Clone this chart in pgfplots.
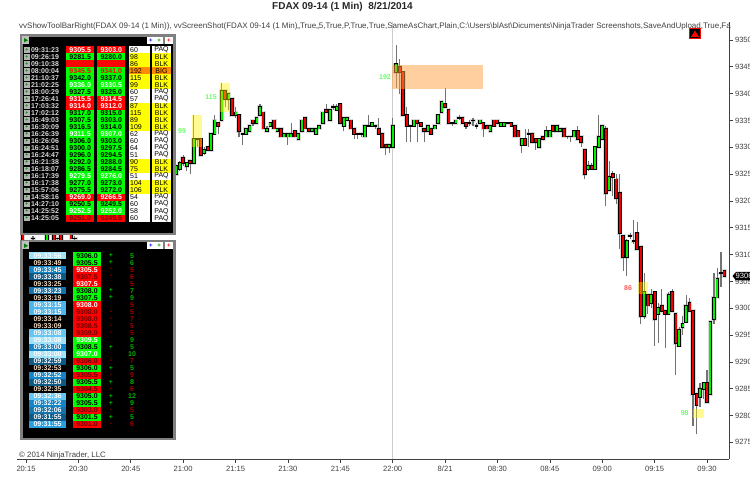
\documentclass[border=0pt]{standalone}
\usepackage{fontspec}
\setmainfont{Liberation Sans}
\usepackage{pgfplots}
\usepackage{pgfplotstable}
\pgfplotsset{compat=1.18}

\definecolor{upg}{HTML}{00F000}
\definecolor{dnr}{HTML}{F00000}
\definecolor{axgray}{HTML}{404040}
\definecolor{pgreen}{HTML}{00FF00}
\definecolor{pred}{HTML}{FF0000}
\definecolor{pyel}{HTML}{FFFF00}
\definecolor{pora}{HTML}{FF8C00}
\definecolor{dkred}{HTML}{700000}
\definecolor{nred}{HTML}{A00000}
\definecolor{ngrn}{HTML}{00B000}
\definecolor{lblg}{HTML}{66FF66}
\definecolor{lblr}{HTML}{FF5A5A}
\definecolor{wheatt}{HTML}{F0D8C0}
\definecolor{b1}{HTML}{A0E2FA}
\definecolor{b2}{HTML}{66C6F2}
\definecolor{b3}{HTML}{4DB4EC}
\definecolor{b4}{HTML}{2BA0E0}
\definecolor{b5}{HTML}{1486C8}
\definecolor{b6}{HTML}{1873AA}
\definecolor{b7}{HTML}{0F5A85}

% i open high low close
\pgfplotstableread{
i o h l c
-1 9314 9314 9312 9312
2 9313 9313.5 9312 9313
6 9312 9314 9312 9314
8 9314 9314 9312 9312
9 9313 9313 9312.5 9313
10 9314 9314 9312.5 9312.5
13 9314 9314 9313 9313
14 9313 9313.5 9312 9313
43 9325 9326.5 9325 9326.5
44 9326 9327.5 9325.5 9327
45 9328 9328.5 9326.5 9327
46 9326.5 9327 9325.5 9327
47 9327.5 9327.5 9325 9327
48 9327 9336 9327 9331.5
49 9331.5 9331.5 9330 9331.5
50 9331.5 9331.5 9328.5 9328.5
51 9329 9330 9328.5 9329.5
52 9330 9330 9329.5 9329.5
53 9329.5 9332.5 9329.5 9332.5
54 9332.5 9336 9332.5 9335
55 9334.5 9334.5 9332.5 9334
56 9335 9342 9335 9340.5
57 9340.5 9340.5 9337.5 9339
58 9339 9340 9337 9340
59 9339 9339 9336 9336
60 9336 9337.5 9335.5 9336.5
61 9336 9336 9332 9333
62 9332.5 9332.5 9330.5 9332.5
63 9332.5 9333.5 9332.5 9333.5
64 9333 9334 9333 9334
65 9335 9335 9334 9334.5
66 9334.5 9335.5 9334.5 9335.5
67 9336 9338 9336 9337.5
68 9336.5 9336.5 9333.5 9333.5
69 9333 9334 9333 9333.5
70 9334 9334.5 9334 9334.5
71 9335 9335 9333.5 9333.5
72 9333 9333.5 9333 9333.5
73 9333.5 9333.5 9332 9332
74 9332 9332.5 9332 9332.5
75 9332 9332.5 9330.5 9332.5
76 9332 9334.5 9332 9332.5
77 9333 9333 9332 9332
78 9331.5 9332.5 9331.5 9332.5
79 9333 9335 9333 9335
80 9335.5 9335.5 9333.5 9333.5
81 9333.5 9333.5 9333 9333
82 9333 9333.5 9333 9333.5
83 9332.5 9333.5 9332.5 9333.5
84 9333.5 9334 9333.5 9334
85 9334.5 9336.5 9334.5 9336.5
86 9337 9338 9336.5 9336.5
87 9335 9337 9335 9337
88 9337.5 9338 9337 9337.5
89 9337 9338 9337 9337.5
90 9338 9338 9334.5 9334.5
91 9334 9335.5 9333 9335.5
92 9335 9335.5 9335 9335.5
93 9335 9335 9333.5 9333.5
94 9333.5 9333.5 9331.5 9332.5
95 9332.5 9332.5 9331.5 9332.5
96 9332.5 9332.5 9332 9332.5
97 9332 9334 9332 9334
98 9334 9336 9334 9334
99 9334 9334.5 9334 9334.5
100 9334 9334 9333.5 9334
101 9333.5 9335.5 9332.5 9332.5
102 9332.5 9332.5 9330 9330
103 9330.5 9330.5 9328.5 9330
104 9330 9330.5 9329 9330.5
105 9330 9335.5 9330 9334
106 9344 9349 9341 9345.5
107 9345 9346.5 9340 9344
108 9344 9344 9336 9336
109 9336 9337.5 9331 9334
110 9334 9334 9331 9334
111 9334 9335 9334 9335
112 9335 9335 9331 9334.5
113 9334.5 9334.5 9334 9334
114 9333.5 9333.5 9331 9333
115 9333 9334 9333 9334
116 9333.5 9333.5 9332.5 9332.5
117 9333.5 9334 9333.5 9334
118 9334.5 9336 9334.5 9336
119 9336.5 9338.5 9336.5 9338.5
120 9338 9341 9337.5 9337.5
121 9337 9337 9334.5 9334.5
122 9334.5 9334.5 9334 9334.5
123 9334.5 9335 9334.5 9335
124 9335.5 9336 9335 9335.5
125 9335.5 9335.5 9334.5 9334.5
126 9334.5 9334.5 9333.5 9334
127 9334.5 9335 9334 9334.5
128 9335 9335.5 9334 9335
129 9334 9334.5 9333.5 9334
130 9334.5 9335 9334.5 9335
131 9334.5 9334.5 9332 9333.5
132 9334 9334 9333.5 9333.5
133 9333 9334 9333 9334
134 9335 9335 9334 9334
135 9335 9335 9334.5 9334.5
136 9334 9334.5 9334 9334.5
137 9334 9334.5 9334 9334.5
138 9334.5 9334.5 9334.5 9334.5
139 9334.5 9334.5 9334 9334
140 9334 9334 9332 9332
141 9333 9333 9332 9332
142 9330.5 9331.5 9329 9331.5
143 9331.5 9333.5 9330.5 9330.5
144 9332.5 9333.5 9330 9332.5
145 9332.5 9332.5 9331 9331
146 9331.5 9331.5 9329.5 9331
147 9330 9331.5 9330 9331.5
148 9332 9332 9331.5 9331.5
149 9332 9334 9332 9333
150 9332 9333 9332 9333
151 9334 9334 9333 9333
152 9333 9334 9333 9334
153 9333 9333.5 9333 9333.5
154 9333.5 9333.5 9332 9332
155 9332 9332 9331.5 9332
156 9332 9332 9331 9332
157 9332 9333 9332 9333
158 9333 9334 9331.5 9331.5
159 9332 9332 9330 9331
160 9329.5 9329.5 9324 9325
161 9326 9327.5 9325.5 9326.5
162 9326.5 9327 9326 9326
163 9326 9330 9326 9330
164 9330 9336 9330 9332
165 9331.5 9334 9331.5 9334
166 9333.5 9334 9319 9321.5
167 9322 9327.5 9322 9324.5
168 9325 9325.5 9321 9324.5
169 9324 9325 9319.5 9320.5
170 9321.5 9325 9311 9314
171 9313.5 9313.5 9307 9309.5
172 9309.5 9313 9306 9312.5
173 9313.5 9314 9313 9313.5
174 9312.5 9316.5 9312 9312.5
175 9314 9316 9311 9311
176 9311.5 9311.5 9297 9298.5
177 9298.5 9306.5 9298 9303
178 9302.5 9302.5 9299 9300.5
179 9301 9303.5 9300 9302.5
180 9303 9303 9293 9298
181 9299 9301 9293.5 9300
182 9300.5 9303.5 9299.5 9299.5
183 9299.5 9299.5 9292.5 9299
184 9299 9303 9299 9302.5
185 9303 9303.5 9299.5 9299.5
186 9299 9299 9287.5 9293.5
187 9293 9296.5 9293 9296
188 9296.5 9298.5 9295 9297
189 9297.5 9302.5 9297.5 9300.5
190 9301 9302 9299.5 9299.5
191 9299.5 9299.5 9278 9284
192 9284 9284 9276.5 9282
193 9283.5 9286 9281.5 9285
194 9285 9286 9283 9286
195 9286 9288.5 9282.5 9282.5
196 9284 9297.5 9284 9297.5
197 9298 9306.5 9297 9302
198 9302 9307.5 9302 9305.5
199 9306.5 9310.5 9304 9306.5
200 9307 9307 9306 9306
}\candles

\begin{document}
\begin{tikzpicture}
\useasboundingbox (0,0) rectangle (750pt,478pt);
\clip (0,0) rectangle (750pt,478pt);
\begin{axis}[
    at={(17pt,19pt)},
    anchor=south west,
    scale only axis,
    width=712pt,
    height=437pt,
    axis x line=bottom,
    axis y line=right,
    axis line style={-,color=axgray,line width=0.8pt},
    xmin=-2.58, xmax=201.3,
    ymin=9271.9, ymax=9353.36,
    xtick={0,15,...,195},
    xticklabels={20:15,20:30,20:45,21:00,21:15,21:30,21:45,22:00,8/21,08:30,08:45,09:00,09:15,09:30},
    ytick={9275,9280,...,9350},
    tick align=outside,
    major tick length=4pt,
    tick style={color=axgray,line width=0.7pt},
    /pgf/number format/.cd,assume math mode=true,fixed,1000 sep={},
    /pgfplots/.cd,
    ticklabel style={font=\fontsize{7.6}{9}\selectfont,text=axgray},
    xticklabel style={yshift=1pt,text height=6pt,text depth=1pt},
    yticklabel style={xshift=-1.5pt},
]
% session line at 22:00
\addplot[color=black!20,line width=0.9pt,forget plot] coordinates {(105,9271.9) (105,9353.36)};
% soft shadow round the bodies
\addplot[draw=none,no markers,forget plot,
    error bars/.cd,y dir=both,y explicit,error mark=none,
    error bar style={draw=black!14,line width=5.4pt}]
  table[x=i,y expr={max(\thisrow{o},\thisrow{c})+0.3},y error minus expr={abs(\thisrow{o}-\thisrow{c})+0.6},y error plus expr=0] {\candles};
% wicks
\addplot[draw=none,no markers,forget plot,
    error bars/.cd,y dir=both,y explicit,error mark=none,
    error bar style={draw=black!55,line width=1.1pt}]
  table[x=i,y=l,y error plus expr=\thisrow{h}-\thisrow{l},y error minus expr=0] {\candles};
% body outline
\addplot[draw=none,no markers,forget plot,
    error bars/.cd,y dir=both,y explicit,error mark=none,
    error bar style={draw=black,line width=3.8pt}]
  table[x=i,y expr={max(\thisrow{o},\thisrow{c})+0.17},y error minus expr={abs(\thisrow{o}-\thisrow{c})+0.34},y error plus expr=0] {\candles};
% up bodies
\addplot[draw=none,no markers,forget plot,
    x filter/.expression={\thisrow{c}>\thisrow{o} ? x : nan},
    error bars/.cd,y dir=both,y explicit,error mark=none,
    error bar style={draw=upg,line width=2pt}]
  table[x=i,y=c,y error minus expr={\thisrow{c}-\thisrow{o}},y error plus expr=0] {\candles};
% down bodies
\addplot[draw=none,no markers,forget plot,
    x filter/.expression={\thisrow{c}<\thisrow{o} ? x : nan},
    error bars/.cd,y dir=both,y explicit,error mark=none,
    error bar style={draw=dnr,line width=2pt}]
  table[x=i,y=o,y error minus expr={\thisrow{o}-\thisrow{c}},y error plus expr=0] {\candles};
% zones
\addplot[fill=yellow,fill opacity=0.42,draw=none,forget plot] coordinates {(47.5,9336) (50.4,9336) (50.4,9330) (47.5,9330)} --cycle;
\addplot[fill=yellow,fill opacity=0.42,draw=none,forget plot] coordinates {(55.6,9341.9) (58.4,9341.9) (58.4,9336.6) (55.6,9336.6)} --cycle;
\addplot[fill=yellow,fill opacity=0.42,draw=none,forget plot] coordinates {(175.1,9304.8) (178.2,9304.8) (178.2,9302.6) (175.1,9302.6)} --cycle;
\addplot[fill=yellow,fill opacity=0.42,draw=none,forget plot] coordinates {(191.1,9281.3) (194.2,9281.3) (194.2,9279.6) (191.1,9279.6)} --cycle;
\addplot[fill={rgb,255:red,255;green,160;blue,64},fill opacity=0.5,draw=none,forget plot] coordinates {(104.7,9345.3) (130.8,9345.3) (130.8,9340.8) (104.7,9340.8)} --cycle;
\node[font=\fontsize{7}{8}\selectfont\bfseries,text=lblg] at (axis cs:44.7,9333) {99};
\node[font=\fontsize{7}{8}\selectfont\bfseries,text=lblg] at (axis cs:53,9339.4) {115};
\node[font=\fontsize{7}{8}\selectfont\bfseries,text=lblg] at (axis cs:102.8,9343) {192};
\node[font=\fontsize{7}{8}\selectfont\bfseries,text=lblr] at (axis cs:172.4,9303.8) {86};
\node[font=\fontsize{7}{8}\selectfont\bfseries,text=lblg] at (axis cs:188.6,9280.5) {98};
\end{axis}

% everything below is in image pixels, y counted from the top
\begin{scope}[x=1pt,y=-1pt,yshift=478pt]
\node[anchor=east,inner sep=0pt,font=\fontsize{10}{12}\selectfont\bfseries,text=black!85] at (413,7) {FDAX 09-14 (1 Min)\ \ 8/21/2014};
\node[anchor=west,inner sep=0pt,font=\fontsize{8}{9}\selectfont,text=axgray] at (19,26) {vvShowToolBarRight(FDAX 09-14 (1 Min)), vvScreenShot(FDAX 09-14 (1 Min),,True,,5,True,P,True,True,SameAsChart,Plain,C:\textbackslash Users\textbackslash blAst\textbackslash Dicuments\textbackslash NinjaTrader Screenshots,SaveAndUpload,True,Fa};
\node[anchor=west,inner sep=0pt,font=\fontsize{7.85}{9}\selectfont,text=axgray] at (19,455) {© 2014 NinjaTrader, LLC};
% alert button
\fill[red] (689,28) rectangle (701,39.5);
\fill[black] (690,29) rectangle (700,38.5);
\fill[red] (695,30.5) -- (699,37) -- (691,37) -- cycle;
% last price flag
\fill[black] (732.5,276) -- (736,272) -- (750,272) -- (750,280.5) -- (736,280.5) -- cycle;
\node[anchor=west,inner sep=0pt,font=\fontsize{7.6}{9}\selectfont,text=white] at (735.5,276.2) {9306};

% first panel
\fill[black!50] (20,34.5) rectangle (175.5,235);
\fill[black] (22.5,37) rectangle (173,233);
\fill[black!50] (147,36) rectangle (175.5,44);
\foreach \bx/\bc in {147/blue,155/green!60!black,165/red}{
  \fill[white] (\bx,37) rectangle +(8,7);
  \node[font=\fontsize{6}{6}\selectfont\bfseries,text=\bc,inner sep=0pt] at (\bx+4,40.5) {+};
}
\fill[black!25] (22,36.5) rectangle (29,44);
\fill[green!50!black] (24,38) -- (28,40.3) -- (24,42.5) -- cycle;
\foreach \tm/\bg/\tc/\va/\vb/\nb/\nn/\tg [count=\r from 0] in {
  09:31:23/pred/white/9305.5/9303.0/white/60/PAQ,
  09:26:19/pgreen/black/9281.5/9280.0/pyel/98/BLK,
  09:10:38/pred/pred/9305.5/9303.0/pyel/86/BLK,
  08:00:04/pgreen/pred/9345.5/9341.0/pora/192/BIG,
  21:10:37/pgreen/black/9342.0/9337.0/pyel/115/BLK,
  21:02:25/pgreen/white/9336.0/9330.5/pyel/99/BLK,
  18:00:29/pgreen/black/9327.5/9325.0/white/60/PAQ,
  17:26:41/pred/white/9315.5/9314.5/white/57/PAQ,
  17:03:32/pred/white/9314.0/9312.0/pyel/87/BLK,
  17:02:12/pgreen/black/9317.0/9315.0/pyel/115/BLK,
  16:49:03/pgreen/black/9307.5/9303.0/pyel/89/BLK,
  16:30:09/pgreen/black/9316.5/9314.0/pyel/109/BLK,
  16:26:39/pgreen/white/9311.5/9307.0/white/62/PAQ,
  16:26:06/pgreen/black/9306.0/9303.0/white/60/PAQ,
  16:24:51/pgreen/black/9300.0/9297.5/white/64/PAQ,
  16:24:47/pgreen/black/9296.0/9294.5/white/51/PAQ,
  16:21:38/pgreen/black/9292.0/9288.0/pyel/90/BLK,
  16:18:07/pgreen/black/9286.5/9284.5/pyel/75/BLK,
  16:17:39/pgreen/white/9279.5/9276.0/white/51/PAQ,
  16:17:38/pgreen/black/9277.0/9273.0/pyel/104/BLK,
  15:57:06/pgreen/black/9275.5/9272.0/pyel/106/BLK,
  14:58:16/pred/white/9269.0/9266.5/white/54/PAQ,
  14:27:10/pgreen/black/9250.5/9249.5/white/60/PAQ,
  14:25:52/pgreen/white/9252.5/9252.0/white/58/PAQ,
  14:25:05/pred/dkred/9251.0/9249.5/white/60/PAQ}{
  \pgfmathsetmacro{\yc}{50+7.01*\r}
  \fill[black!30] (24.3,\yc-2.6) rectangle (29.5,\yc+2.6);
  \node[font=\fontsize{5}{5}\selectfont\bfseries,text=green!50!black,inner sep=0pt] at (26.9,\yc) {+};
  \node[anchor=west,inner sep=0pt,font=\fontsize{7}{7}\selectfont\bfseries,text=black!15] at (30.8,\yc) {\tm};
  \fill[\bg] (66,\yc-3.55) rectangle (94.3,\yc+3.55);
  \fill[\bg] (97.3,\yc-3.55) rectangle (125.3,\yc+3.55);
  \fill[\nb] (128.7,\yc-3.55) rectangle (150,\yc+3.55);
  \fill[\nb] (151.7,\yc-3.55) rectangle (171.3,\yc+3.55);
  \node[inner sep=0pt,font=\fontsize{7}{7}\selectfont\bfseries,text=\tc] at (80.2,\yc) {\va};
  \node[inner sep=0pt,font=\fontsize{7}{7}\selectfont\bfseries,text=\tc] at (111.3,\yc) {\vb};
  \node[anchor=west,inner sep=0pt,font=\fontsize{7}{7}\selectfont,text=black] at (130,\yc) {\nn};
  \node[inner sep=0pt,font=\fontsize{7}{7}\selectfont,text=black] at (161.5,\yc) {\tg};
}

% second panel
\fill[black!50] (20,240) rectangle (175.5,440);
\fill[black] (22.5,242.5) rectangle (173,438);
\fill[black!50] (147,241) rectangle (175.5,249.5);
\foreach \bx/\bc in {147/blue,155/green!60!black,165/red}{
  \fill[white] (\bx,242) rectangle +(8,7);
  \node[font=\fontsize{6}{6}\selectfont\bfseries,text=\bc,inner sep=0pt] at (\bx+4,245.5) {+};
}
\fill[black!25] (22,241.5) rectangle (29,249.5);
\fill[green!50!black] (24,243.5) -- (28,245.8) -- (24,248) -- cycle;
\foreach \tm/\bg/\tc/\pv/\pb/\pc/\sg/\nn/\nc [count=\r from 0] in {
  09:33:56/b1/white/9306.0/pgreen/black/+/5/ngrn,
  09:33:49/black/wheatt/9305.5/pgreen/black/+/6/ngrn,
  09:33:45/b5/white/9305.5/pred/white/-/5/nred,
  09:33:38/b7/white/9307.5/pred/dkred/-/6/nred,
  09:33:25/black/wheatt/9307.5/pred/white/ /5/nred,
  09:33:23/b6/white/9308.0/pgreen/black/+/7/ngrn,
  09:33:19/black/wheatt/9307.5/pgreen/black/+/9/ngrn,
  09:33:15/b3/white/9308.0/pred/white/ /5/nred,
  09:33:15/b3/white/9308.0/pred/dkred/-/5/nred,
  09:33:14/black/wheatt/9308.0/pred/dkred/-/7/nred,
  09:33:09/black/wheatt/9308.5/pred/dkred/-/5/nred,
  09:33:08/b2/white/9309.0/pred/dkred/-/5/nred,
  09:33:08/b1/white/9309.5/pgreen/white/ /9/ngrn,
  09:33:00/b5/white/9308.5/pgreen/black/+/5/ngrn,
  09:33:00/b1/white/9307.0/pgreen/white/ /10/ngrn,
  09:32:59/b7/white/9306.0/pred/dkred/-/7/nred,
  09:32:53/black/wheatt/9306.0/pgreen/black/+/5/ngrn,
  09:32:52/b5/white/9305.5/pred/dkred/-/9/nred,
  09:32:50/b7/white/9305.5/pgreen/black/+/8/ngrn,
  09:32:35/black/wheatt/9304.5/pred/dkred/-/6/nred,
  09:32:36/b2/white/9305.0/pgreen/black/+/12/ngrn,
  09:32:22/b5/white/9305.5/pgreen/black/+/9/ngrn,
  09:32:06/b6/white/9303.0/pred/dkred/-/5/nred,
  09:31:55/b7/white/9301.5/pgreen/black/+/5/ngrn,
  09:31:55/b4/white/9301.0/pred/dkred/-/6/nred}{
  \pgfmathsetmacro{\yc}{255.7+7.03*\r}
  \fill[\bg] (29.3,\yc-3.55) rectangle (66,\yc+3.55);
  \fill[\pb] (73,\yc-3.55) rectangle (101,\yc+3.55);
  \node[inner sep=0pt,font=\fontsize{7}{7}\selectfont\bfseries,text=\tc] at (47.6,\yc) {\tm};
  \node[inner sep=0pt,font=\fontsize{7}{7}\selectfont\bfseries,text=\pc] at (87,\yc) {\pv};
  \node[inner sep=0pt,font=\fontsize{7}{7}\selectfont\bfseries,text=\nc] at (111,\yc) {\sg};
  \node[inner sep=0pt,font=\fontsize{7}{7}\selectfont\bfseries,text=\nc] at (132,\yc) {\nn};
}
\end{scope}
\end{tikzpicture}
\end{document}
